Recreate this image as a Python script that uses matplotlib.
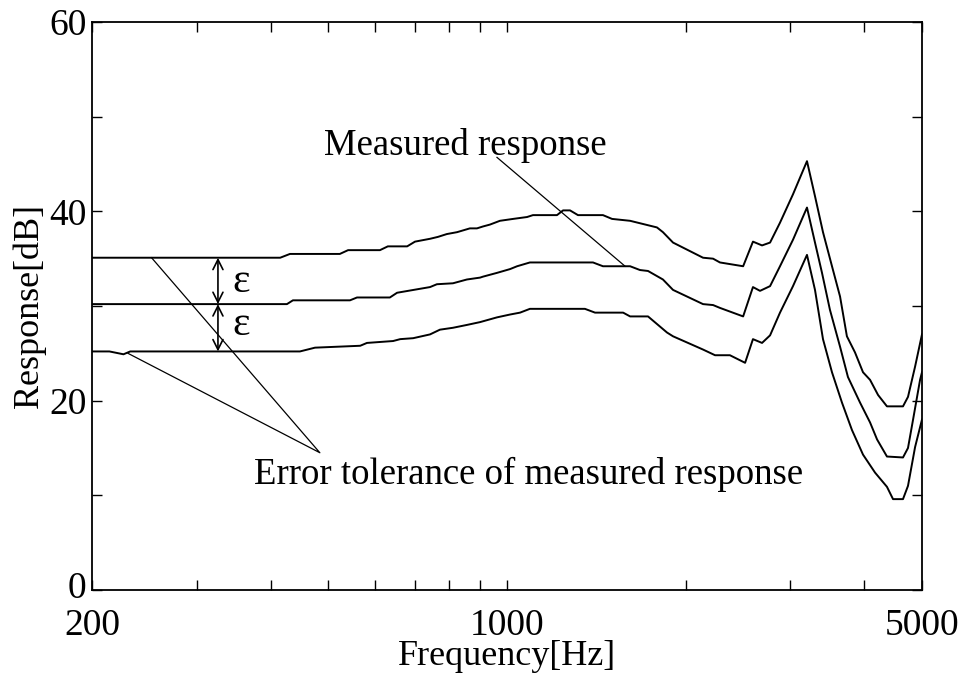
import matplotlib
matplotlib.use("Agg")
import matplotlib.pyplot as plt
from matplotlib.ticker import FixedLocator, NullFormatter, LogLocator
from matplotlib.transforms import ScaledTranslation

plt.rcParams['font.family'] = ['Liberation Serif', 'DejaVu Serif']

# upper tolerance curve (measured + eps)
freq_upper = [200, 415, 431, 523, 540, 611, 630, 679, 700, 742, 765, 792, 824, 866, 890,
              911, 936, 973, 1024, 1081, 1106, 1214, 1243, 1277, 1317, 1451, 1503, 1612,
              1789, 1831, 1904, 2139, 2224, 2284, 2499, 2596, 2689, 2774, 2883, 3032, 3201,
              3302, 3406, 3527, 3639, 3737, 3856, 3978, 4088, 4217, 4365, 4645, 4736, 4868, 5000]
db_upper = [35.1, 35.1, 35.5, 35.5, 35.9, 35.9, 36.3, 36.3, 36.8, 37.1, 37.3, 37.6, 37.8, 38.2, 38.2,
            38.4, 38.6, 39.0, 39.2, 39.4, 39.6, 39.6, 40.1, 40.1, 39.6, 39.6, 39.2, 39.0,
            38.3, 37.8, 36.7, 35.1, 35.0, 34.6, 34.2, 36.8, 36.4, 36.7, 38.8, 41.8, 45.3,
            41.6, 37.8, 34.2, 31.0, 26.8, 25.1, 23.0, 22.2, 20.6, 19.4, 19.4, 20.4, 23.6, 27.0]

# measured response
freq_meas = [200, 426, 436, 544, 559, 635, 653, 742, 762, 811, 856, 901, 911, 962, 1012, 1040,
             1093, 1396, 1451, 1612, 1675, 1728, 1831, 1904, 2139, 2224, 2284, 2499, 2596,
             2668, 2774, 2883, 3032, 3201, 3302, 3393, 3499, 3639, 3752, 3932, 4088, 4201,
             4365, 4645, 4736, 4830, 4963, 5000]
db_meas = [30.2, 30.2, 30.6, 30.6, 30.9, 30.9, 31.4, 32.0, 32.3, 32.4, 32.8, 33.0, 33.1, 33.5, 33.9, 34.2,
           34.6, 34.6, 34.2, 34.2, 33.8, 33.7, 32.8, 31.7, 30.2, 30.1, 29.8, 28.9, 32.0,
           31.6, 32.1, 34.2, 37.0, 40.4, 36.7, 33.5, 29.6, 25.7, 22.5, 19.8, 17.7, 15.9,
           14.1, 14.0, 15.0, 18.0, 22.2, 23.0]

# lower tolerance curve (measured - eps)
freq_lower = [200, 214, 226, 232, 448, 475, 566, 581, 643, 661, 695, 742, 771, 811, 856, 901,
              962, 1012, 1052, 1093, 1353, 1407, 1569, 1612, 1728, 1860, 1904, 2139, 2241,
              2374, 2518, 2596, 2689, 2774, 2883, 3032, 3201, 3302, 3406, 3527, 3666, 3811,
              3978, 4168, 4365, 4469, 4645, 4736, 4868, 4963, 5000]
db_lower = [25.2, 25.2, 24.9, 25.2, 25.2, 25.6, 25.8, 26.1, 26.3, 26.5, 26.6, 27.0, 27.5, 27.7, 28.0, 28.3,
            28.8, 29.1, 29.3, 29.7, 29.7, 29.3, 29.3, 28.9, 28.9, 27.2, 26.8, 25.4, 24.8,
            24.8, 24.0, 26.5, 26.1, 26.9, 29.3, 32.1, 35.4, 31.7, 26.5, 23.0, 19.8, 16.9,
            14.3, 12.4, 10.9, 9.6, 9.6, 11.0, 15.1, 17.2, 18.0]

xticks = [200, 1000, 5000]
yticks = [0, 20, 40, 60]

fig = plt.figure(figsize=(9.62, 6.77), dpi=100)
ax = fig.add_axes([0.0956, 0.1285, 0.8628, 0.839])

for f, d in [(freq_upper, db_upper), (freq_meas, db_meas), (freq_lower, db_lower)]:
    ax.plot(f, d, color='black', lw=1.4)

ax.set_xscale('log')
ax.set_xlim(200, 5000)
ax.set_ylim(0, 60)
ax.xaxis.set_major_locator(FixedLocator(xticks))
ax.set_xticklabels([str(t) for t in xticks])
ax.xaxis.set_minor_locator(LogLocator(base=10, subs=range(2, 10)))
ax.xaxis.set_minor_formatter(NullFormatter())
ax.yaxis.set_major_locator(FixedLocator(yticks))
ax.yaxis.set_minor_locator(FixedLocator([10, 30, 50]))

ax.tick_params(which='both', direction='in', top=True, right=True, labelsize=27, width=1.0)
ax.tick_params(which='major', length=7)
ax.tick_params(which='minor', length=7)
ax.tick_params(axis='x', which='major', pad=13)
ax.tick_params(axis='y', which='major', pad=4)
for s in ax.spines.values():
    s.set_linewidth(1.3)

# the "0" sits a little higher, as in the original
zero_lab = ax.get_yticklabels()[0]
zero_lab.set_transform(zero_lab.get_transform() + ScaledTranslation(0, 4 / 72, fig.dpi_scale_trans))

ax.set_xlabel('Frequency[Hz]', fontsize=26, labelpad=-2)
ax.set_ylabel('Response[dB]', fontsize=26, labelpad=2)

# annotations
ax.text(850, 46.0, 'Measured response', fontsize=26.5, ha='center', va='baseline')
ax.plot([962, 1581], [45.7, 34.2], color='black', lw=0.9)

ax.text(1089, 11.2, 'Error tolerance of measured response', fontsize=26.5, ha='center', va='baseline')
ax.plot([252, 484, 230], [35.1, 14.5, 25.0], color='black', lw=0.9)

# epsilon arrows
ax.annotate('', xy=(326, 35.1), xytext=(326, 30.2),
            arrowprops=dict(arrowstyle='<->', color='black', lw=1.2, mutation_scale=18,
                            shrinkA=0, shrinkB=0))
ax.annotate('', xy=(326, 30.2), xytext=(326, 25.2),
            arrowprops=dict(arrowstyle='<->', color='black', lw=1.2, mutation_scale=18,
                            shrinkA=0, shrinkB=0))
ax.text(356, 32.6, 'ε', fontsize=30, ha='center', va='center')
ax.text(356, 28.0, 'ε', fontsize=30, ha='center', va='center')

fig.savefig('out.png', dpi=100)
